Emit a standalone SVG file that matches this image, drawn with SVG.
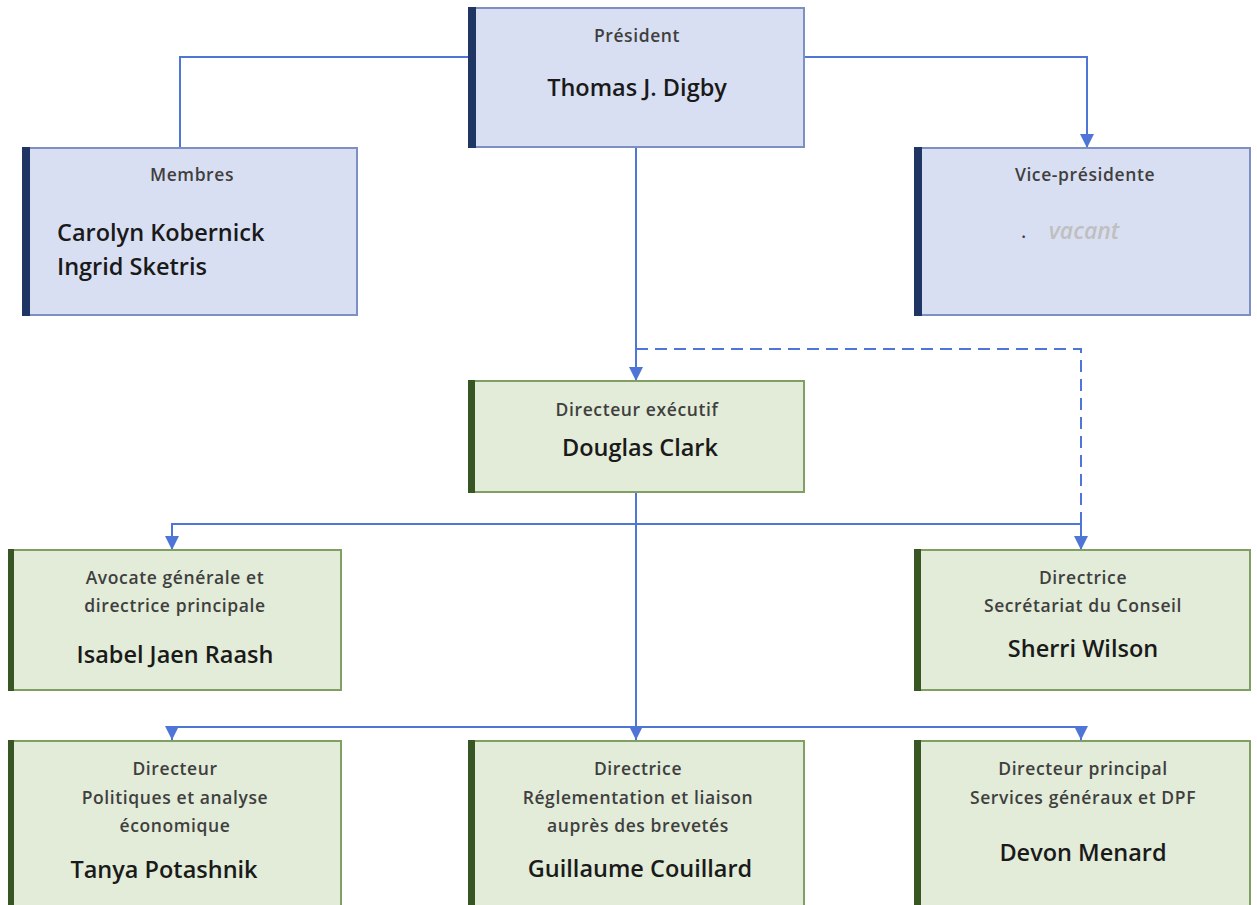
<svg xmlns="http://www.w3.org/2000/svg" width="1257" height="905" viewBox="0 0 1257 905">
  <defs>
    <style>
      .blue { fill: #d9dff2; stroke: #7e8fc4; stroke-width: 2; }
      .green { fill: #e2ecd8; stroke: #7f9f63; stroke-width: 2; }
      .barB { fill: #1f3563; }
      .barG { fill: #375623; }
      .title { font-family: "Open Sans", "Noto Sans", sans-serif; font-weight: 600; font-size: 17.5px; letter-spacing: 0.6px; fill: #3f3f3f; text-anchor: middle; }
      .name { font-family: "Open Sans", "Noto Sans", sans-serif; font-weight: 600; font-size: 23.5px; fill: #1a1a1a; text-anchor: middle; }
      .left { text-anchor: start; }
      .vacant { font-family: "Open Sans", "Noto Sans", sans-serif; font-weight: 600; font-style: italic; font-size: 23px; fill: #bfbfbf; text-anchor: middle; }
      .conn { fill: none; stroke: #4f75d6; stroke-width: 2; }
      .dash { stroke-dasharray: 12 7; }
    </style>
    <marker id="arrow" viewBox="0 0 10 10" refX="10" refY="5" markerWidth="14" markerHeight="14" markerUnits="userSpaceOnUse" orient="auto">
      <path d="M0,0 L10,5 L0,10 z" fill="#4f75d6"/>
    </marker>
  </defs>

  <rect width="1257" height="905" fill="#ffffff"/>

  <!-- connectors -->
  <g id="connectors">
    <path class="conn" d="M468,57 H180 V148"/>
    <path class="conn" d="M804,57 H1087 V148" marker-end="url(#arrow)"/>
    <path class="conn" d="M636,147 V381" marker-end="url(#arrow)"/>
    <path class="conn dash" d="M636,349 H1081 V524"/>
    <path class="conn" d="M636,492 V740" marker-end="url(#arrow)"/>
    <path class="conn" d="M1081,524 H172 V550" marker-end="url(#arrow)"/>
    <path class="conn" d="M1081,524 V550" marker-end="url(#arrow)"/>
    <path class="conn" d="M172,727 H1081 V740" marker-end="url(#arrow)"/>
    <path class="conn" d="M172,727 V740" marker-end="url(#arrow)"/>
  </g>

  <!-- Président -->
  <g id="president">
    <rect class="blue" x="469" y="8" width="335" height="139"/>
    <rect class="barB" x="468" y="7" width="8" height="141"/>
    <text class="title" x="637" y="42">Président</text>
    <text class="name" x="637" y="96">Thomas J. Digby</text>
  </g>

  <!-- Membres -->
  <g id="membres">
    <rect class="blue" x="23" y="148" width="334" height="167"/>
    <rect class="barB" x="22" y="147" width="8" height="169"/>
    <text class="title" x="192" y="181">Membres</text>
    <text class="name left" x="57" y="241">Carolyn Kobernick</text>
    <text class="name left" x="57" y="275">Ingrid Sketris</text>
  </g>

  <!-- Vice-présidente -->
  <g id="vice-presidente">
    <rect class="blue" x="915" y="148" width="335" height="167"/>
    <rect class="barB" x="914" y="147" width="8" height="169"/>
    <text class="title" x="1085" y="181">Vice-présidente</text>
    <text class="title" x="1024" y="238" font-size="8">.</text>
    <text class="vacant" x="1084" y="239">vacant</text>
  </g>

  <!-- Directeur exécutif -->
  <g id="directeur-executif">
    <rect class="green" x="469" y="381" width="335" height="111"/>
    <rect class="barG" x="468" y="380" width="7" height="113"/>
    <text class="title" x="637" y="416">Directeur exécutif</text>
    <text class="name" x="640" y="456">Douglas Clark</text>
  </g>

  <!-- Avocate générale -->
  <g id="avocate-generale">
    <rect class="green" x="9" y="550" width="332" height="140"/>
    <rect class="barG" x="8" y="549" width="6" height="142"/>
    <text class="title" x="175" y="584">Avocate générale et</text>
    <text class="title" x="175" y="612">directrice principale</text>
    <text class="name" x="175" y="663">Isabel Jaen Raash</text>
  </g>

  <!-- Directrice Secrétariat du Conseil -->
  <g id="secretariat-conseil">
    <rect class="green" x="915" y="550" width="335" height="140"/>
    <rect class="barG" x="914" y="549" width="7" height="142"/>
    <text class="title" x="1083" y="584">Directrice</text>
    <text class="title" x="1083" y="612">Secrétariat du Conseil</text>
    <text class="name" x="1083" y="657">Sherri Wilson</text>
  </g>

  <!-- Politiques et analyse économique -->
  <g id="politiques">
    <rect class="green" x="9" y="741" width="332" height="175"/>
    <rect class="barG" x="8" y="740" width="6" height="177"/>
    <text class="title" x="175" y="775">Directeur</text>
    <text class="title" x="175" y="804" fill="#262626">Politiques et analyse</text>
    <text class="title" x="175" y="832" fill="#262626">économique</text>
    <text class="name" x="164" y="878">Tanya Potashnik</text>
  </g>

  <!-- Réglementation et liaison -->
  <g id="reglementation">
    <rect class="green" x="469" y="741" width="335" height="175"/>
    <rect class="barG" x="468" y="740" width="7" height="177"/>
    <text class="title" x="638" y="775">Directrice</text>
    <text class="title" x="638" y="804">Réglementation et liaison</text>
    <text class="title" x="638" y="832">auprès des brevetés</text>
    <text class="name" x="640" y="877">Guillaume Couillard</text>
  </g>

  <!-- Services généraux -->
  <g id="services-generaux">
    <rect class="green" x="915" y="741" width="335" height="175"/>
    <rect class="barG" x="914" y="740" width="7" height="177"/>
    <text class="title" x="1083" y="775">Directeur principal</text>
    <text class="title" x="1083" y="804">Services généraux et DPF</text>
    <text class="name" x="1083" y="861">Devon Menard</text>
  </g>
</svg>
